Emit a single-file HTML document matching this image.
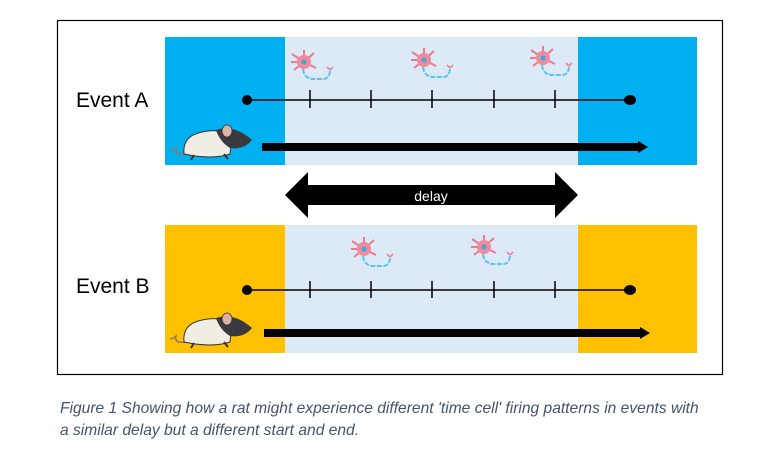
<!DOCTYPE html>
<html><head><style>
body{margin:0;background:#fff;width:782px;height:472px;overflow:hidden;font-family:"Liberation Sans",sans-serif}
.cap{position:absolute;left:60px;font-style:italic;font-size:15.6px;color:#44546a;white-space:nowrap}
</style></head><body>
<svg width="782" height="472" style="position:absolute;left:0;top:0">
<defs>
<g id="neuron">
<path d="M0 0 L-12 -8 M0 0 L-10 8 M0 0 L10 -9 M0 0 L12 6 M0 0 L0 -12 M0 0 L-13 0" stroke="#ec7a8e" stroke-width="2"/>
<circle cx="0" cy="0" r="7" fill="#f08a9c"/>
<circle cx="0" cy="0" r="2.5" fill="#3aa7e0"/>
<path d="M-1 7 Q0 17 10 17 L20 17 Q26 16 26 8" stroke="#5bc3ec" stroke-width="2" fill="none" stroke-dasharray="5 1.5"/>
<path d="M26 8 l-3 -3 M26 8 l3 -3" stroke="#ec7a8e" stroke-width="1.5"/>
</g>
<g id="rat">
<path d="M14 32 Q2 34 4 26 Q0 30 -2 28" stroke="#8a7a70" stroke-width="1.5" fill="none"/>
<path d="M12 32 Q10 14 30 10 Q48 6 60 14 L58 32 Q40 38 12 32Z" fill="#f0ede2" stroke="#333" stroke-width="1"/>
<path d="M44 8 Q62 2 80 18 Q72 28 58 26 Q48 20 44 8Z" fill="#3a3a3e"/>
<ellipse cx="55" cy="9" rx="5" ry="6" fill="#d9b3aa" stroke="#333" stroke-width="0.8"/>
<path d="M22 33 l-3 5 M52 32 l4 5" stroke="#333" stroke-width="2"/>
</g>
</defs>
<rect x="57.5" y="20.5" width="665" height="354" fill="none" stroke="#000" stroke-width="1.2"/>
<rect x="165" y="37" width="532" height="128" fill="#00b0f0"/>
<rect x="285" y="37" width="293" height="128" fill="#dce9f6"/>
<use href="#neuron" x="304" y="62"/>
<use href="#neuron" x="424" y="60"/>
<use href="#neuron" x="543" y="58"/>
<line x1="247" y1="100" x2="630" y2="100" stroke="#000" stroke-width="1.5"/>
<circle cx="247" cy="100" r="5" fill="#000"/><ellipse cx="630" cy="100" rx="6" ry="5" fill="#000"/>
<g stroke="#000" stroke-width="1.5"><line x1="310" y1="90" x2="310" y2="108"/><line x1="371" y1="90" x2="371" y2="108"/><line x1="432" y1="90" x2="432" y2="108"/><line x1="494" y1="90" x2="494" y2="108"/><line x1="555" y1="90" x2="555" y2="108"/></g>
<rect x="262" y="143" width="378" height="8" fill="#000"/><path d="M638 141 L648 147 L638 153Z" fill="#000"/>
<use href="#rat" x="172" y="122"/>
<text x="76" y="107" font-size="21" fill="#000">Event A</text>
<path d="M285 195 L308 172 L308 185 L555 185 L555 172 L578 195 L555 218 L555 205 L308 205 L308 218Z" fill="#000"/>
<text x="431" y="201" font-size="14" fill="#fff" text-anchor="middle">delay</text>
<rect x="165" y="225" width="532" height="128" fill="#ffc000"/>
<rect x="285" y="225" width="293" height="128" fill="#dce9f6"/>
<use href="#neuron" x="364" y="249"/>
<use href="#neuron" x="484" y="247"/>
<line x1="247" y1="290" x2="630" y2="290" stroke="#000" stroke-width="1.5"/>
<circle cx="247" cy="290" r="5" fill="#000"/><ellipse cx="630" cy="290" rx="6" ry="5" fill="#000"/>
<g stroke="#000" stroke-width="1.5"><line x1="310" y1="281" x2="310" y2="298"/><line x1="371" y1="281" x2="371" y2="298"/><line x1="432" y1="281" x2="432" y2="298"/><line x1="494" y1="281" x2="494" y2="298"/><line x1="555" y1="281" x2="555" y2="298"/></g>
<rect x="264" y="329" width="378" height="8" fill="#000"/><path d="M640 327 L650 333 L640 339Z" fill="#000"/>
<use href="#rat" x="172" y="310"/>
<text x="76" y="293" font-size="21" fill="#000">Event B</text>
</svg>
<div class="cap" style="top:400px">Figure 1 Showing how a rat might experience different 'time cell' firing patterns in events with</div>
<div class="cap" style="top:422px">a similar delay but a different start and end.</div>
</body></html>
